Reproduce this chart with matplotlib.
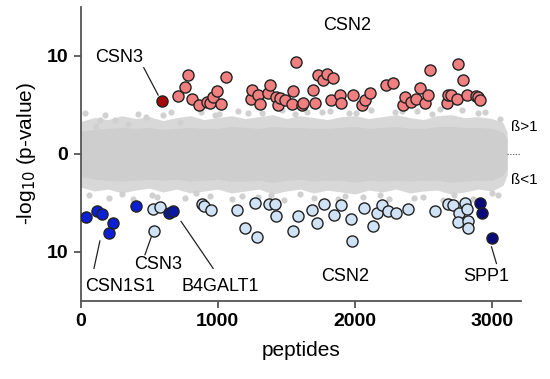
import matplotlib
matplotlib.use("Agg")
import matplotlib.pyplot as plt

plt.rcParams['font.family'] = ['Liberation Sans', 'DejaVu Sans']

# ---- data ----
# gray background cloud: envelope of non-significant peptides
cloud_x = [0, 100, 200, 300, 400, 500, 600, 700, 800, 900, 1000, 1100, 1200, 1300, 1400, 1500, 1600,
           1700, 1800, 1900, 2000, 2100, 2200, 2300, 2400, 2500, 2600, 2700, 2800, 2900, 3000, 3080, 3110]
cloud_outer_hi = [3.3, 3.7, 3.5, 3.9, 3.6, 3.8, 3.4, 3.7, 3.9, 3.5, 3.7, 3.9, 3.6, 3.8, 4.0, 3.6, 3.9,
                  3.7, 3.5, 3.8, 3.9, 3.6, 3.8, 4.0, 3.7, 3.5, 3.9, 4.0, 3.7, 3.8, 3.6, 3.2, 2.2]
cloud_outer_lo = [-3.4, -3.8, -3.6, -4.0, -3.7, -3.5, -3.9, -3.6, -4.0, -3.8, -3.6, -4.0, -3.8, -3.6, -4.1, -3.8, -3.6,
                  -4.0, -3.7, -3.9, -4.1, -3.7, -3.9, -3.6, -4.0, -3.8, -3.7, -4.1, -3.9, -3.6, -3.8, -3.2, -2.2]
cloud_core_hi = [2.3, 2.5, 2.6, 2.7, 2.6, 2.7, 2.5, 2.6, 2.7, 2.6, 2.6, 2.8, 2.7, 2.6, 2.8, 2.7, 2.7,
                 2.6, 2.6, 2.7, 2.8, 2.6, 2.7, 2.8, 2.6, 2.6, 2.8, 2.8, 2.7, 2.7, 2.6, 2.2, 1.6]
cloud_core_lo = [-2.3, -2.6, -2.7, -2.8, -2.7, -2.6, -2.7, -2.6, -2.8, -2.7, -2.6, -2.8, -2.8, -2.7, -2.9, -2.7, -2.6,
                 -2.8, -2.7, -2.7, -2.9, -2.7, -2.8, -2.7, -2.8, -2.7, -2.7, -2.9, -2.8, -2.7, -2.7, -2.2, -1.6]
# scattered gray outliers at the edge of the cloud
stray_x = [32, 115, 141, 250, 346, 479, 600, 724, 880, 1010, 1150, 1320, 1470, 1650, 1820, 1960, 2120, 2290,
           2450, 2620, 2780, 2950, 3060, 60, 210, 380, 560, 760, 940, 1100, 1290, 1480, 1700, 1880, 2060,
           2250, 2430, 2640, 2860, 3040, 180, 420, 660, 980, 1220, 1560, 1760, 2010, 2340, 2560, 2900,
           300, 520, 840, 1180, 1390, 1600, 1930, 2180, 2500, 2720, 3000]
stray_y = [4.2, 2.8, 3.5, 3.5, 3.0, 3.8, 4.0, 3.3, 4.3, 4.1, 4.4, 4.2, 4.5, 4.3, 4.4, 4.2, 4.5, 4.3,
           4.4, 4.6, 4.5, 4.3, 3.6, -4.2, -4.5, -4.6, -4.4, -4.5, -4.3, -4.6, -4.4, -4.7, -4.5, -4.6, -4.4,
           -4.6, -4.5, -4.7, -4.6, -4.2, 4.0, 4.1, 4.3, 4.0, 4.2, 4.1, 4.3, 4.2, 4.4, 4.1, 4.2,
           -4.1, -4.2, -4.0, -4.3, -4.2, -4.1, -4.3, -4.2, -4.4, -4.2, -4.0]

# CSN2 up (beta > 1), pink
csn2_up_x = [707, 762, 785, 809, 862, 918, 943, 964, 991, 1023, 1057, 1239, 1246, 1294, 1307, 1367, 1380,
             1428, 1440, 1453, 1489, 1538, 1550, 1569, 1611, 1622, 1695, 1707, 1732, 1768, 1793, 1841,
             1829, 1890, 1902, 1987, 2048, 2072, 2109, 2230, 2279, 2351, 2364, 2412, 2449, 2473, 2510,
             2534, 2546, 2668, 2679, 2704, 2741, 2752, 2791, 2814, 2886, 2899, 2910]
csn2_up_y = [5.95, 6.8, 8.1, 5.6, 5.0, 5.3, 5.2, 5.8, 6.4, 5.1, 7.8, 5.6, 6.5, 6.0, 5.1, 6.2, 7.0,
             5.8, 5.0, 5.7, 5.5, 5.1, 6.4, 9.4, 5.0, 5.2, 6.5, 5.2, 8.1, 7.5, 8.2, 7.7,
             5.5, 6.0, 5.2, 6.0, 5.0, 5.5, 6.2, 7.0, 7.2, 5.0, 5.8, 5.3, 5.6, 6.7, 5.2,
             6.0, 8.6, 5.2, 6.0, 6.0, 5.6, 9.2, 7.5, 6.0, 5.9, 5.8, 5.5]
# CSN3 up, dark red
csn3_up_x = [593]
csn3_up_y = [5.4]

# CSN2 down (beta < 1), light blue; plotted as -log10 on the negative side
csn2_dn_x = [882, 899, 947, 1137, 1197, 1270, 1288, 1375, 1416, 1423, 1550, 1586, 1688, 1727, 1775,
             1847, 1895, 1970, 1978, 2068, 2135, 2160, 2196, 2238, 2303, 2388, 2586, 2679, 2718, 2762,
             2801, 2815, 2755, 2822, 2822]
csn2_dn_y = [5.1, 5.3, 5.7, 5.7, 7.6, 5.0, 8.5, 5.1, 5.1, 6.4, 7.9, 6.35, 5.7, 7.1, 5.15,
             6.2, 5.25, 6.7, 8.9, 5.5, 7.4, 6.0, 5.2, 5.8, 6.0, 5.65, 5.8, 5.1, 5.2, 6.05,
             5.0, 5.65, 7.0, 6.9, 7.6]
# CSN3 down, light blue
csn3_dn_x = [529, 578, 536]
csn3_dn_y = [5.6, 5.45, 7.9]
# CSN1S1 down, blue
csn1s1_x = [42, 117, 153, 233, 208, 407]
csn1s1_y = [6.5, 5.8, 6.1, 7.1, 8.1, 5.3]
# B4GALT1 down, dark blue
b4galt1_x = [645, 675]
b4galt1_y = [6.0, 5.85]
# SPP1 down, navy
spp1_x = [2910, 2930, 2996]
spp1_y = [5.0, 6.05, 8.6]

yticks = [10, 0, -10]
ytick_labels = ["10", "0", "10"]
xticks = [0, 1000, 2000, 3000]

# ---- figure ----
fig = plt.figure(figsize=(5.5, 3.79), dpi=100)
ax = fig.add_axes([0.1467, 0.2066, 0.8003, 0.775])

gray = "#d0d0d0"
ax.fill_between(cloud_x, cloud_outer_lo, cloud_outer_hi, color="#d8d8d8", lw=0, zorder=1)
ax.fill_between(cloud_x, cloud_core_lo, cloud_core_hi, color="#cecece", lw=0, zorder=1)
ax.scatter(stray_x, stray_y, s=20, color=gray, lw=0, zorder=1)

edge = "#222222"
ms = 64
ax.scatter(csn2_up_x, csn2_up_y, s=ms, c="#f17f7f", edgecolors=edge, linewidths=1.0, zorder=3)
ax.scatter(csn3_up_x, csn3_up_y, s=ms, c="#a50a0a", edgecolors=edge, linewidths=1.0, zorder=3)
ax.scatter(csn2_dn_x, [-v for v in csn2_dn_y], s=ms, c="#cfe2f6", edgecolors=edge, linewidths=1.0, zorder=3)
ax.scatter(csn3_dn_x, [-v for v in csn3_dn_y], s=ms, c="#cfe2f6", edgecolors=edge, linewidths=1.0, zorder=3)
ax.scatter(csn1s1_x, [-v for v in csn1s1_y], s=ms, c="#0c1fd4", edgecolors=edge, linewidths=1.0, zorder=3)
ax.scatter(b4galt1_x, [-v for v in b4galt1_y], s=ms, c="#0a1aa0", edgecolors=edge, linewidths=1.0, zorder=3)
ax.scatter(spp1_x, [-v for v in spp1_y], s=ms, c="#0a0a7c", edgecolors=edge, linewidths=1.0, zorder=3)

# dotted zero line at right
ax.plot([3110, 3210], [0, 0], ls=(0, (1, 1.5)), color="#555555", lw=0.8, zorder=2)

ax.set_xlim(0, 3210)
ax.set_ylim(-15, 15)
ax.set_yticks(yticks)
ax.set_yticklabels(ytick_labels)
ax.set_xticks(xticks)

for s in ["top", "right"]:
    ax.spines[s].set_visible(False)
for s in ["left", "bottom"]:
    ax.spines[s].set_color("#555555")
    ax.spines[s].set_linewidth(1.3)
ax.tick_params(axis="both", length=5, width=1.3, color="#555555", labelsize=14, pad=4)
for lab in ax.get_xticklabels() + ax.get_yticklabels():
    lab.set_fontweight("bold")

ax.set_xlabel("peptides", fontsize=15, labelpad=8)
ax.set_ylabel("-log$_{10}$ (p-value)", fontsize=15, labelpad=6)

fs = 13
ax.text(1940, 13.1, "CSN2", ha="center", va="center", fontsize=fs)
ax.text(280, 9.8, "CSN3", ha="center", va="center", fontsize=fs)
ax.plot([460, 565], [8.8, 6.0], color="#222222", lw=0.9, zorder=2)
ax.text(287, -13.5, "CSN1S1", ha="center", va="center", fontsize=fs)
ax.plot([97, 140], [-11.7, -8.9], color="#222222", lw=0.9, zorder=2)
ax.text(563, -11.3, "CSN3", ha="center", va="center", fontsize=fs)
ax.plot([469, 517], [-10.3, -8.4], color="#222222", lw=0.9, zorder=2)
ax.text(1018, -13.6, "B4GALT1", ha="center", va="center", fontsize=fs)
ax.plot([732, 966], [-6.9, -11.7], color="#222222", lw=0.9, zorder=2)
ax.text(1928, -12.5, "CSN2", ha="center", va="center", fontsize=fs)
ax.text(2955, -12.5, "SPP1", ha="center", va="center", fontsize=fs)
ax.plot([2996, 3032], [-9.5, -11.2], color="#222222", lw=0.9, zorder=2)

ax.text(3135, 2.7, "ß>1", ha="left", va="center", fontsize=11, clip_on=False)
ax.text(3135, -2.7, "ß<1", ha="left", va="center", fontsize=11, clip_on=False)

fig.savefig("out.png", dpi=100)
